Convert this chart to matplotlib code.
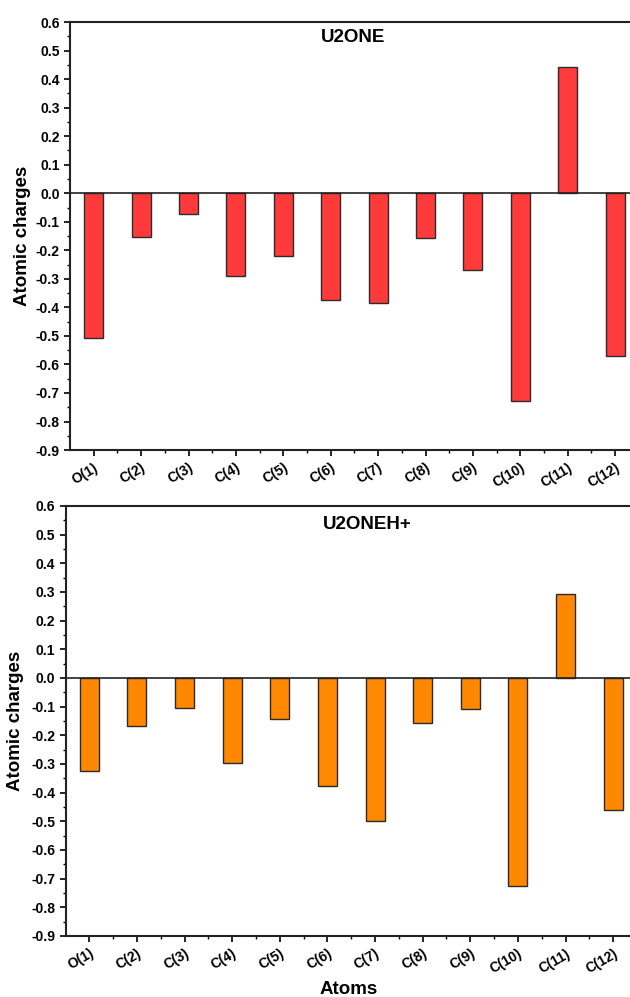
import matplotlib
matplotlib.use("Agg")
import matplotlib.pyplot as plt
from matplotlib.ticker import MultipleLocator

plt.rcParams['font.family'] = ['Liberation Sans', 'DejaVu Sans']
plt.rcParams['font.weight'] = 'bold'

atoms = ["O(1)", "C(2)", "C(3)", "C(4)", "C(5)", "C(6)",
         "C(7)", "C(8)", "C(9)", "C(10)", "C(11)", "C(12)"]
u2one = [-0.508, -0.153, -0.073, -0.290, -0.220, -0.374,
         -0.385, -0.156, -0.270, -0.727, 0.444, -0.570]
u2oneh = [-0.324, -0.167, -0.105, -0.297, -0.144, -0.378,
          -0.500, -0.156, -0.109, -0.726, 0.294, -0.460]


def draw_panel(ax, values, color, name, name_xy, ylab_x, show_xlabel):
    x = list(range(1, len(atoms) + 1))
    ax.bar(x, values, width=0.4, color=color, edgecolor="#2b2b2b",
           linewidth=1.0, zorder=2)
    ax.axhline(0, color="#222222", linewidth=1.2, zorder=3)
    ax.set_xlim(0.5, 12.5)
    ax.set_ylim(-0.9, 0.6)
    ax.yaxis.set_minor_locator(MultipleLocator(0.05))
    ax.set_xticks(x)
    ax.set_xticks([i + 0.5 for i in x[:-1]], minor=True)
    ax.set_xticklabels(atoms, rotation=30, ha="right",
                       rotation_mode="anchor", fontsize=10, fontweight="bold")
    ax.set_yticks([round(-0.9 + 0.1 * i, 1) for i in range(16)])
    ax.set_yticklabels(["%.1f" % v for v in ax.get_yticks()],
                       fontsize=10, fontweight="bold")
    ax.tick_params(which="major", direction="out", length=4, width=1.2)
    ax.tick_params(which="minor", direction="out", length=2, width=1.0)
    for s in ["left", "bottom", "top"]:
        ax.spines[s].set_linewidth(1.5)
        ax.spines[s].set_color("#222222")
    ax.spines["right"].set_visible(False)
    ax.set_ylabel("Atomic charges", fontsize=13.5, fontweight="bold")
    ax.yaxis.set_label_coords(ylab_x, 0.5)
    ax.text(name_xy[0], name_xy[1], name, transform=ax.transAxes,
            fontsize=13.5, fontweight="bold", va="center", ha="left")
    if show_xlabel:
        ax.set_xlabel("Atoms", fontsize=13.5, fontweight="bold")
        ax.xaxis.set_label_coords(0.496, -0.104)


fig = plt.figure(figsize=(6.3, 9.97), dpi=100)
ax1 = fig.add_axes([0.1111, 0.5486, 0.903, 0.4293])
ax2 = fig.add_axes([0.104, 0.0612, 0.907, 0.4313])

draw_panel(ax1, u2one, "#ff3a3a", "U2ONE", (0.441, 0.963), -0.068, False)
draw_panel(ax2, u2oneh, "#ff8800", "U2ONEH+", (0.4506, 0.956), -0.072, True)

fig.savefig("out.png", dpi=100)
